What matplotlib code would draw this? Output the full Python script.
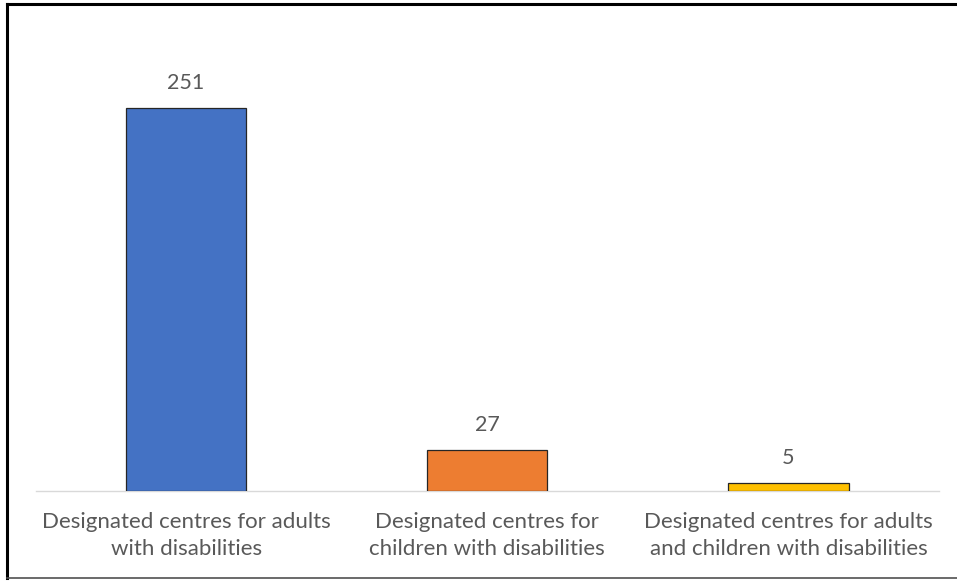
import matplotlib.pyplot as plt
from matplotlib.lines import Line2D

categories = ["Designated centres for adults\nwith disabilities",
              "Designated centres for\nchildren with disabilities",
              "Designated centres for adults\nand children with disabilities"]
values = [251, 27, 5]
colors = ["#4472C4", "#ED7D31", "#FFC000"]

plt.rcParams['font.family'] = ['Lato', 'DejaVu Sans']
text_color = "#595959"

fig = plt.figure(figsize=(9.57, 5.81), dpi=100)
# axes: left 35.5px, right 939px, baseline at 491px, top at 33px
W, H = 957, 581
ax = fig.add_axes([35.5 / W, (H - 491) / H, (939 - 35.5) / W, (491 - 33) / H])

x = range(len(categories))
bars = ax.bar(x, values, width=0.4, color=colors, edgecolor="#262626", linewidth=0.9, zorder=3)
for b, v in zip(bars, values):
    ax.annotate(str(v), (b.get_x() + b.get_width() / 2, v), xytext=(0, 11),
                textcoords="offset points", ha="center", va="bottom",
                fontsize=15.5, color=text_color)

ax.set_xlim(-0.5, 2.5)
ax.set_ylim(0, 300)
ax.set_xticks(list(x))
ax.set_xticklabels(categories, fontsize=16, color=text_color, linespacing=1.42)
ax.tick_params(axis='x', length=0, pad=15)
ax.set_yticks([])
for s in ["top", "right", "left"]:
    ax.spines[s].set_visible(False)
ax.spines["bottom"].set_color("#D9D9D9")
ax.spines["bottom"].set_linewidth(1)

# outer border (top/left black, bottom grey)
fig.add_artist(Line2D([7 / W, 1], [1 - 4 / H, 1 - 4 / H], color="black", lw=2.2))
fig.add_artist(Line2D([7 / W, 7 / W], [1 - 4 / H, 1 - 578 / H], color="black", lw=2.2))
fig.add_artist(Line2D([7 / W, 1], [1 - 578 / H, 1 - 578 / H], color="#505050", lw=1.2))

plt.savefig("out.png", dpi=100)
